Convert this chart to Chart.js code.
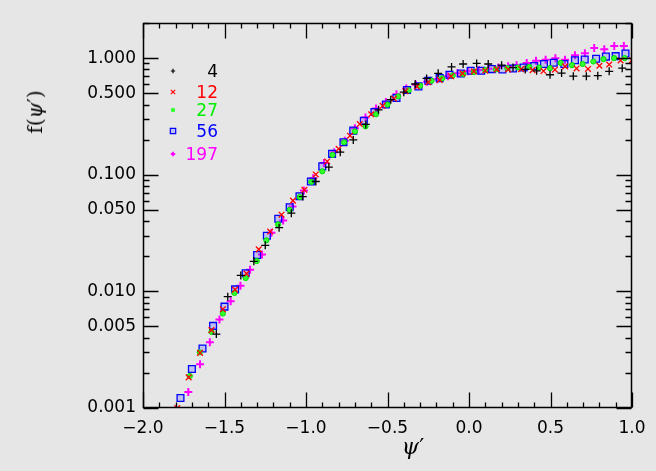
<!DOCTYPE html>
<html><head><meta charset="utf-8">
<script src="https://cdn.jsdelivr.net/npm/chart.js@4"></script>
<style>
html,body{margin:0;padding:0;background:#e6e6e6;}
#wrap{position:relative;width:656px;height:471px;overflow:hidden;}
canvas{position:absolute;left:0;top:0;}
.t{position:absolute;font-family:"DejaVu Sans",sans-serif;white-space:nowrap;line-height:1;}
.lg{font-size:17px;text-align:right;width:60px;transform:translateY(-50%);}
</style></head><body>
<div id="wrap">
<canvas id="c" width="656" height="471"></canvas>
<div class="t" id="ytitle" style="left:35px;top:112px;font-size:20px;font-family:'DejaVu Serif',serif;transform:translate(-50%,-50%) rotate(-90deg);">f(<i>ψ</i>′)</div>
<div class="t" id="xtitle" style="left:413px;top:447px;font-size:22px;font-family:'DejaVu Serif',serif;transform:translate(-50%,-50%);"><i>ψ</i>′</div>
<div id="legend"></div>
</div>
<script>
// ---- data ----
const seriesNames = ["4", "12", "27", "56", "197"];
const xTickValues = [-2.0, -1.5, -1.0, -0.5, 0.0, 0.5, 1.0];
const yTickValues = [0.001, 0.005, 0.01, 0.05, 0.1, 0.5, 1.0];

const xL4 = [-1.55,-1.48,-1.40,-1.32,-1.25,-1.165,-1.09,-1.02,-0.94,-0.86,-0.79,-0.71,-0.633,-0.555,-0.48,-0.40,-0.33,-0.26,-0.189,-0.107,-0.036,0.047,0.118,0.20,0.27,0.345,0.415,0.497,0.568,0.64,0.72,0.79,0.86,0.94];
const yL4 = [0.0043,0.0090,0.0137,0.0181,0.0248,0.0352,0.0468,0.065,0.0875,0.116,0.156,0.199,0.27,0.36,0.44,0.51,0.60,0.67,0.74,0.84,0.89,0.90,0.89,0.87,0.83,0.80,0.778,0.72,0.744,0.70,0.70,0.707,0.77,0.82];

const xL12 = [-1.79,-1.72,-1.65,-1.58,-1.51,-1.435,-1.365,-1.29,-1.22,-1.15,-1.08,-1.01,-0.94,-0.87,-0.80,-0.73,-0.67,-0.60,-0.53,-0.46,-0.39,-0.32,-0.25,-0.18,-0.11,-0.04,0.03,0.10,0.17,0.24,0.32,0.39,0.457,0.527,0.59,0.66,0.73,0.80,0.86,0.93,1.0];
const yL12 = [0.001,0.00183,0.00297,0.00465,0.00703,0.01035,0.0142,0.0229,0.0326,0.0454,0.060,0.0743,0.1005,0.13,0.167,0.216,0.272,0.33,0.39,0.45,0.52,0.57,0.62,0.65,0.70,0.74,0.77,0.78,0.80,0.80,0.805,0.789,0.775,0.795,0.85,0.815,0.807,0.86,0.88,0.955,0.96];

const xL27 = [-1.713,-1.652,-1.58,-1.51,-1.439,-1.37,-1.302,-1.243,-1.171,-1.10,-1.038,-0.967,-0.90,-0.837,-0.766,-0.70,-0.635,-0.57,-0.50,-0.435,-0.37,-0.30,-0.23,-0.165,-0.10,-0.035,0.03,0.10,0.165,0.235,0.30,0.37,0.43,0.497,0.562,0.632,0.697,0.763,0.825,0.89,0.955];
const yL27 = [0.00188,0.0030,0.0045,0.00646,0.0097,0.0130,0.0182,0.0274,0.0375,0.050,0.0643,0.0869,0.107,0.148,0.19,0.235,0.26,0.33,0.40,0.47,0.53,0.58,0.64,0.67,0.71,0.73,0.76,0.79,0.80,0.82,0.83,0.84,0.83,0.82,0.91,0.87,0.89,0.935,0.98,1.0,1.0];

const xL56 = [-1.77,-1.70,-1.635,-1.57,-1.50,-1.435,-1.37,-1.30,-1.24,-1.17,-1.10,-1.04,-0.97,-0.90,-0.84,-0.77,-0.71,-0.645,-0.58,-0.51,-0.445,-0.38,-0.31,-0.25,-0.18,-0.12,-0.05,0.01,0.075,0.14,0.205,0.27,0.335,0.40,0.46,0.52,0.585,0.65,0.71,0.78,0.84,0.90,0.96];
const yL56 = [0.00122,0.00216,0.00324,0.00506,0.0074,0.0104,0.0143,0.0205,0.0300,0.042,0.0527,0.0655,0.0875,0.118,0.151,0.19,0.239,0.29,0.345,0.40,0.455,0.532,0.572,0.64,0.674,0.72,0.738,0.778,0.778,0.805,0.80,0.815,0.83,0.855,0.89,0.912,0.89,0.96,0.973,0.986,1.03,1.04,1.096];

const xL197 = [-1.722,-1.65,-1.59,-1.531,-1.462,-1.402,-1.343,-1.27,-1.212,-1.14,-1.083,-1.013,-0.956,-0.89,-0.827,-0.762,-0.70,-0.635,-0.57,-0.51,-0.445,-0.385,-0.326,-0.257,-0.195,-0.13,-0.07,-0.005,0.06,0.12,0.18,0.24,0.292,0.354,0.411,0.47,0.53,0.589,0.65,0.711,0.768,0.83,0.891,0.95];
const yL197 = [0.00137,0.00237,0.00367,0.00574,0.00822,0.0112,0.0153,0.0207,0.0318,0.0405,0.0535,0.0733,0.0934,0.126,0.156,0.196,0.25,0.31,0.37,0.42,0.49,0.55,0.592,0.627,0.66,0.70,0.74,0.77,0.79,0.81,0.83,0.85,0.87,0.906,0.949,0.97,0.998,0.97,1.06,1.1,1.22,1.19,1.27,1.27];

// ---- styles ----
const seriesX = [xL4, xL12, xL27, xL56, xL197];
const seriesY = [yL4, yL12, yL27, yL56, yL197];
const styles = [
  {color:'#000000', pointStyle:'cross', radius:4, borderWidth:1.3, bg:'#000000'},
  {color:'#ff0000', pointStyle:'crossRot', radius:4, borderWidth:1.3, bg:'#ff0000'},
  {color:'#00e000', pointStyle:'circle', radius:2.6, borderWidth:1, bg:'#33ff33'},
  {color:'#0000ff', pointStyle:'rect', radius:4.8, borderWidth:1.3, bg:'rgba(80,80,255,0.25)'},
  {color:'#ff00ff', pointStyle:'cross', radius:4, borderWidth:2, bg:'#ff00ff'}
];
const legendY = [71, 92, 110, 131, 154];

function zip(xs, ys){ const n=Math.min(xs.length, ys.length); const a=[]; for(let i=0;i<n;i++) a.push({x:xs[i], y:ys[i]}); return a; }

const datasets = seriesNames.map((name,i)=>({
  label:name,
  data:zip(seriesX[i], seriesY[i]),
  pointStyle:styles[i].pointStyle,
  pointRadius:styles[i].radius,
  pointBorderWidth:styles[i].borderWidth,
  borderColor:styles[i].color,
  backgroundColor:styles[i].bg
}));

const lg = document.getElementById('legend');
seriesNames.forEach((n,i)=>{
  const d=document.createElement('div');
  d.className='t lg'; d.textContent=n;
  d.style.left=(218-60)+'px'; d.style.top=legendY[i]+'px'; d.style.color=styles[i].color==='#00e000'?'#00ee00':styles[i].color;
  lg.appendChild(d);
});

function drawFrame(chart){
  const c=chart.ctx, a=chart.chartArea, xs=chart.scales.x, ys=chart.scales.y;
  c.save();
  c.strokeStyle='#000000';
  const L=Math.round(a.left)+0.5, R=Math.round(a.right)-0.5, T=Math.round(a.top)+0.5, B=Math.round(a.bottom)-0.5;
  c.lineWidth=1.5;
  c.beginPath(); c.rect(L,T,R-L,B-T); c.stroke();
  c.lineWidth=1.3;
  c.beginPath();
  for(let i=-20;i<=10;i++){
    const v=i/10, px=Math.round(xs.getPixelForValue(v))+0.5, len=(i%5===0)?15:5;
    c.moveTo(px,B); c.lineTo(px,B-len);
    c.moveTo(px,T); c.lineTo(px,T+len);
  }
  for(let d=-3; d<=0; d++){
    for(let m=1;m<=9;m++){
      const v=m*Math.pow(10,d); if(v>2) continue;
      const py=Math.round(ys.getPixelForValue(v))+0.5, len=(m===1||m===5)?15:6;
      c.moveTo(L,py); c.lineTo(L+len,py);
      c.moveTo(R,py); c.lineTo(R-len,py);
    }
  }
  c.stroke();
  c.restore();
  // legend markers
  styles.forEach((s,i)=>{
    c.save();
    c.strokeStyle=s.color; c.fillStyle=s.bg; c.lineWidth=(i===4)?1.8:1.2;
    const r = s.pointStyle==='rect'?3.2:2.2;
    const x=173, y=legendY[i];
    c.beginPath();
    if(s.pointStyle==='cross'){ c.moveTo(x-r,y); c.lineTo(x+r,y); c.moveTo(x,y-r); c.lineTo(x,y+r); c.stroke(); }
    else if(s.pointStyle==='crossRot'){ c.moveTo(x-r,y-r); c.lineTo(x+r,y+r); c.moveTo(x-r,y+r); c.lineTo(x+r,y-r); c.stroke(); }
    else if(s.pointStyle==='circle'){ c.arc(x,y,r,0,Math.PI*2); c.fill(); }
    else { c.rect(x-r+0.5,y-r+0.5,2*r-1,2*r-1); c.fill(); c.stroke(); }
    c.restore();
  });
}

const bgPlugin = {id:'bgfill', beforeDraw(chart){const c=chart.ctx; c.save(); c.fillStyle='#e6e6e6'; c.fillRect(0,0,chart.width,chart.height); c.restore();}};
const framePlugin = {id:'plotframe', afterDraw(chart){ drawFrame(chart); }};

const tickFont = {family:'DejaVu Sans', size:17};
new Chart(document.getElementById('c'), {
  type:'scatter',
  data:{datasets},
  options:{
    responsive:false, animation:false, devicePixelRatio:1,
    layout:{padding:{left:0, top:23, right:24, bottom:0}},
    plugins:{legend:{display:false}, tooltip:{enabled:false}},
    scales:{
      x:{type:'linear', min:-2, max:1,
        afterBuildTicks(s){ s.ticks = xTickValues.map(v=>({value:v})); },
        ticks:{font:tickFont, color:'#000', padding:10, maxRotation:0, autoSkip:false,
          callback:(v)=> (v<0?'\u2212':'')+Math.abs(v).toFixed(1)},
        grid:{display:false, drawTicks:false}, border:{display:false},
        afterFit(s){ s.height = 63; }
      },
      y:{type:'logarithmic', min:0.001, max:2,
        afterBuildTicks(s){ s.ticks = yTickValues.map(v=>({value:v})); },
        ticks:{font:tickFont, color:'#000', padding:7, autoSkip:false,
          callback:(v)=> Number(v).toFixed(3)},
        grid:{display:false, drawTicks:false}, border:{display:false},
        afterFit(s){ s.width = 143; }
      }
    }
  },
  plugins:[bgPlugin, framePlugin]
});
</script>
</body></html>
